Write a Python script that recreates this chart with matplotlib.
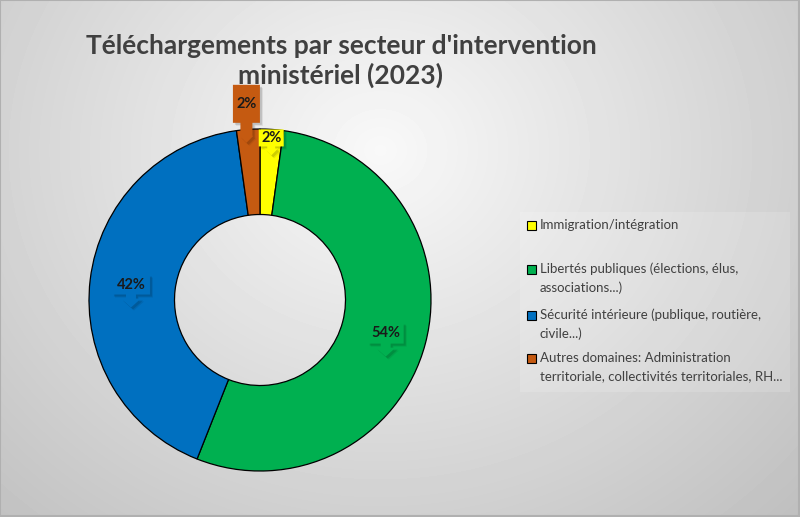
import numpy as np
import matplotlib.pyplot as plt
from matplotlib.patches import Polygon, Rectangle

# chart data
categories = ["Immigration/intégration",
              "Libertés publiques (élections, élus,\nassociations...)",
              "Sécurité intérieure (publique, routière,\ncivile...)",
              "Autres domaines: Administration\nterritoriale, collectivités territoriales, RH..."]
shares = [2.2, 53.8, 41.8, 2.2]
colors = ["#FFFF00", "#00B050", "#0070C0", "#C55A11"]
title = "Téléchargements par secteur d'intervention\nministériel (2023)"

# callout layout (radius factor, box w, h, stem, head, stem half width, head half width) in px
label_r = [0.95, 0.76, 0.76, 1.15]
box_style = [(25, 17, 2, 7, 4, 7),
             (36, 21, 4, 9, 5, 10),
             (38, 20, 4, 9, 5, 10),
             (27, 38, 13, 7, 6, 7)]

plt.rcParams['font.family'] = ['Lato', 'DejaVu Sans']

W, H = 800, 517
fig = plt.figure(figsize=(8, 5.17), dpi=100)

# gradient background
bg = fig.add_axes([0, 0, 1, 1])
yy, xx = np.mgrid[0:H, 0:W]
d = np.sqrt(((xx - 380) / 520) ** 2 + ((yy - 150) / 460) ** 2)
shade = np.clip(0.975 - 0.2 * d, 0, 1)
bg.imshow(shade, cmap='gray', vmin=0, vmax=1, extent=(0, W, H, 0), aspect='auto')
bg.set_xlim(0, W)
bg.set_ylim(H, 0)
bg.axis('off')
bg.add_patch(Rectangle((0, 0), W - 1, H - 1, fill=False, ec='#b0b0b0', lw=1.5))

# title
bg.text(341, 61, title, ha='center', va='center', fontsize=19, fontweight='bold',
        color='#404040', linespacing=1.25)

# donut
cx, cy, R = 260, 300, 171
ax = fig.add_axes([(cx - 1.5 * R) / W, (H - cy - 1.5 * R) / H, 3 * R / W, 3 * R / H])
wedges, _ = ax.pie(shares, colors=colors, startangle=90, counterclock=False,
                   wedgeprops=dict(width=0.5, edgecolor='black', linewidth=0.9))
ax.set_xlim(-1.5, 1.5)
ax.set_ylim(-1.5, 1.5)
ax.set_aspect('auto')
ax.axis('off')


def callout(ax, x, y, style, color, text):
    w, h, stem, head, sw, hw2 = style
    s = 1 / R
    hw, hh = w / 2 * s, h / 2 * s
    bot = y - hh
    pts = [(x - hw, y + hh), (x + hw, y + hh), (x + hw, bot),
           (x + sw * s, bot), (x + sw * s, bot - stem * s), (x + hw2 * s, bot - stem * s),
           (x, bot - (stem + head) * s),
           (x - hw2 * s, bot - stem * s), (x - sw * s, bot - stem * s), (x - sw * s, bot),
           (x - hw, bot)]
    for k, a in [(3, 0.08), (2, 0.12)]:
        shadow = [(px + k * s, py - k * s) for px, py in pts]
        ax.add_patch(Polygon(shadow, closed=True, fc='black', alpha=a, ec='none', zorder=4))
    ax.add_patch(Polygon(pts, closed=True, fc=color, ec='none', zorder=5))
    ax.text(x, y, text, ha='center', va='center', fontsize=10.5, fontweight='bold',
            color='#1a1a1a', zorder=6)


total = sum(shares)
for wdg, v, col, r, st in zip(wedges, shares, colors, label_r, box_style):
    mid = np.deg2rad((wdg.theta1 + wdg.theta2) / 2)
    callout(ax, r * np.cos(mid), r * np.sin(mid), st, col, f"{v / total * 100:.0f}%")

# legend
bg.add_patch(Rectangle((520, 212), 270, 180, fc='white', alpha=0.15, ec='none'))
leg_y = [225, 269, 315, 358]
for lab, col, y0 in zip(categories, colors, leg_y):
    bg.add_patch(Rectangle((527, y0 - 4.5), 9, 9, fc=col, ec='black', lw=0.8))
    for j, line in enumerate(lab.split('\n')):
        bg.text(540, y0 + j * 18.5, line, ha='left', va='center', fontsize=9.5,
                color='#404040')

fig.savefig('out.png', dpi=100)
